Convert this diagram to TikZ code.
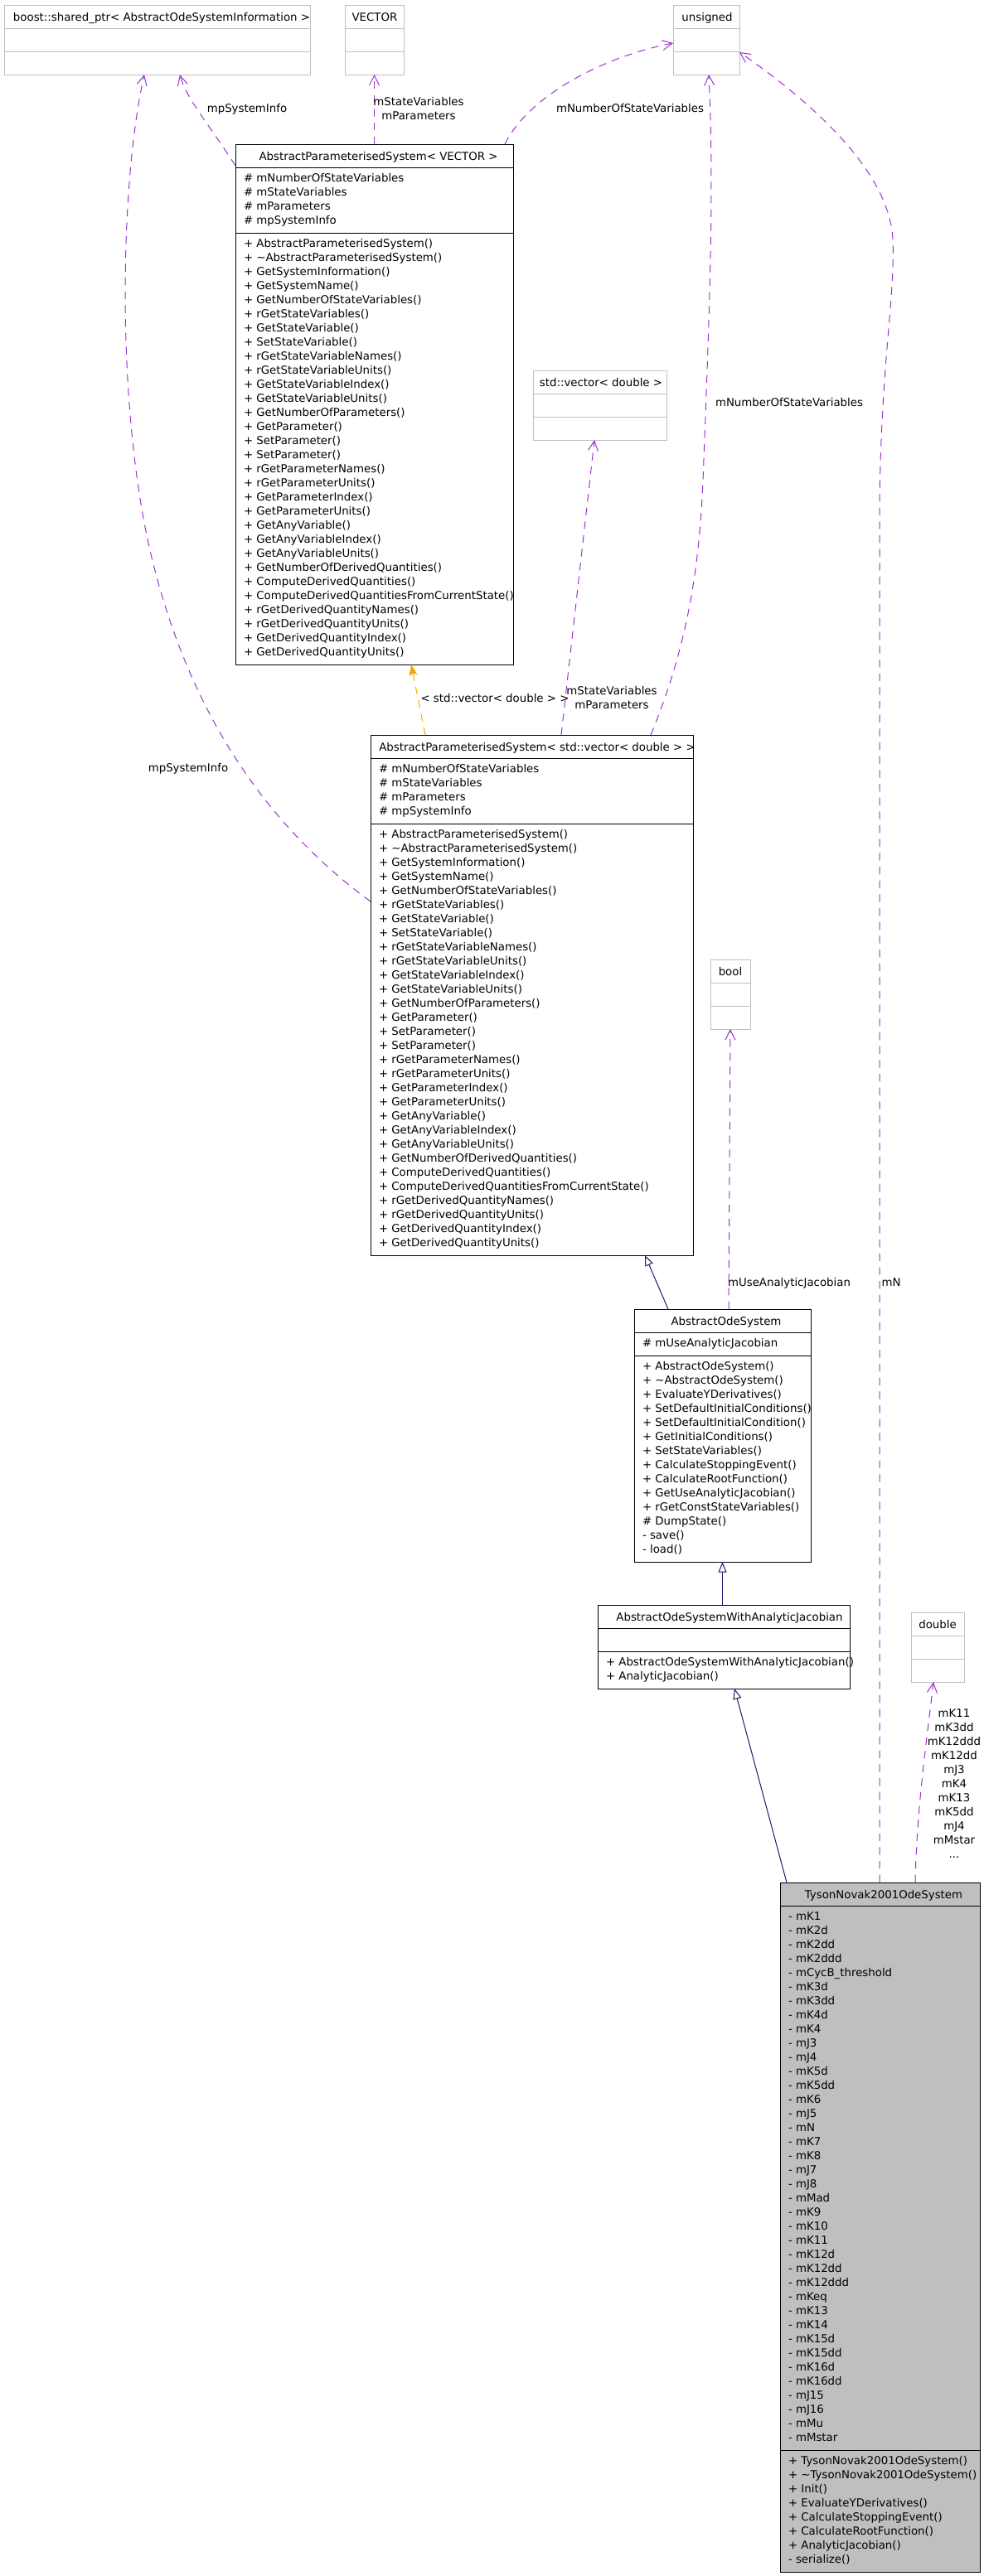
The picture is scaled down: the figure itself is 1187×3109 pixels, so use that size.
\documentclass[tikz,border=0pt]{standalone}
\usepackage{fontspec}
\setmainfont{DejaVu Sans}
\usetikzlibrary{arrows.meta,calc,fit}
\definecolor{usepurple}{HTML}{9A32CD}
\definecolor{inhnavy}{HTML}{191970}
\definecolor{tmplorange}{HTML}{FFA500}
\definecolor{boxgray}{HTML}{BFBFBF}
\definecolor{tysonfill}{HTML}{BFBFBF}
\begin{document}
\begin{tikzpicture}[x=0.75pt,y=-0.75pt,
  cls/.style={draw=black, line width=0.75pt, fill=white, inner sep=0pt, outer sep=0pt},
  ext/.style={draw=boxgray, line width=0.75pt, fill=white, inner sep=0pt, outer sep=0pt},
  cur/.style={draw=black, line width=0.75pt, fill=tysonfill, inner sep=0pt, outer sep=0pt},
  sepk/.style={draw=black, line width=0.75pt},
  sepg/.style={draw=boxgray, line width=0.75pt},
  tx/.style={inner sep=0pt, outer sep=0pt, font=\fontsize{10}{12.75}\selectfont},
  hdr/.style={tx, anchor=base},
  lst/.style={tx, align=left, anchor=north west},
  elbl/.style={tx, anchor=base},
  elbls/.style={tx, align=center, anchor=north},
  use/.style={draw=usepurple, line width=0.75pt, dash pattern=on 7pt off 5.5pt, -{Straight Barb[length=9pt,width=9pt]}},
  inh/.style={draw=inhnavy, line width=0.75pt, -{Triangle[open,length=9.5pt,width=7.5pt,fill=white]}},
  tpl/.style={draw=tmplorange, line width=0.75pt, dash pattern=on 7pt off 5.5pt, -{Stealth[length=10pt,width=7.5pt,inset=2pt]}}
]
\fill[white] (0,0) rectangle (1187,3109);
\useasboundingbox (0,0) rectangle (1187,3109);

% ---------- top row ----------
\node[ext, fit={(5,6) (374,90)}] (boost) {};
\draw[sepg] (5,34) -- (374,34) (5,62) -- (374,62);
\node[hdr] (boost-h) at (195,25) {boost::shared\_ptr< AbstractOdeSystemInformation >};

\node[ext, fit={(416,6) (487,90)}] (vecb) {};
\draw[sepg] (416,34) -- (487,34) (416,62) -- (487,62);
\node[hdr] (vecb-h) at (452,25) {VECTOR};

\node[ext, fit={(812,6) (892,90)}] (uns) {};
\draw[sepg] (812,34) -- (892,34) (812,62) -- (892,62);
\node[hdr] (uns-h) at (853,25) {unsigned};

% ---------- AbstractParameterisedSystem< VECTOR > ----------
\node[cls, fit={(284,174) (619,802)}] (apsv) {};
\draw[sepk] (284,202) -- (619,202) (284,281) -- (619,281);
\node[hdr] (apsv-h) at (456.5,193) {AbstractParameterisedSystem< VECTOR >};
\node[lst] (apsv-a) at (294,207.1) {\strut\# mNumberOfStateVariables\\\# mStateVariables\\\# mParameters\\\# mpSystemInfo};
\node[lst] (apsv-m) at (294,286.1) {\strut+ AbstractParameterisedSystem()\\+ \textasciitilde AbstractParameterisedSystem()\\+ GetSystemInformation()\\+ GetSystemName()\\+ GetNumberOfStateVariables()\\+ rGetStateVariables()\\+ GetStateVariable()\\+ SetStateVariable()\\+ rGetStateVariableNames()\\+ rGetStateVariableUnits()\\+ GetStateVariableIndex()\\+ GetStateVariableUnits()\\+ GetNumberOfParameters()\\+ GetParameter()\\+ SetParameter()\\+ SetParameter()\\+ rGetParameterNames()\\+ rGetParameterUnits()\\+ GetParameterIndex()\\+ GetParameterUnits()\\+ GetAnyVariable()\\+ GetAnyVariableIndex()\\+ GetAnyVariableUnits()\\+ GetNumberOfDerivedQuantities()\\+ ComputeDerivedQuantities()\\+ ComputeDerivedQuantitiesFromCurrentState()\\+ rGetDerivedQuantityNames()\\+ rGetDerivedQuantityUnits()\\+ GetDerivedQuantityIndex()\\+ GetDerivedQuantityUnits()};

% ---------- std::vector< double > ----------
\node[ext, fit={(643,447) (804,531)}] (stdv) {};
\draw[sepg] (643,475) -- (804,475) (643,503) -- (804,503);
\node[hdr] (stdv-h) at (725,466) {std::vector< double >};

% ---------- AbstractParameterisedSystem< std::vector< double > > ----------
\node[cls, fit={(447,887) (836,1515)}] (apsd) {};
\draw[sepk] (447,915) -- (836,915) (447,994) -- (836,994);
\node[hdr] (apsd-h) at (648,906) {AbstractParameterisedSystem< std::vector< double > >};
\node[lst] (apsd-a) at (457,920.1) {\strut\# mNumberOfStateVariables\\\# mStateVariables\\\# mParameters\\\# mpSystemInfo};
\node[lst] (apsd-m) at (457,999.1) {\strut+ AbstractParameterisedSystem()\\+ \textasciitilde AbstractParameterisedSystem()\\+ GetSystemInformation()\\+ GetSystemName()\\+ GetNumberOfStateVariables()\\+ rGetStateVariables()\\+ GetStateVariable()\\+ SetStateVariable()\\+ rGetStateVariableNames()\\+ rGetStateVariableUnits()\\+ GetStateVariableIndex()\\+ GetStateVariableUnits()\\+ GetNumberOfParameters()\\+ GetParameter()\\+ SetParameter()\\+ SetParameter()\\+ rGetParameterNames()\\+ rGetParameterUnits()\\+ GetParameterIndex()\\+ GetParameterUnits()\\+ GetAnyVariable()\\+ GetAnyVariableIndex()\\+ GetAnyVariableUnits()\\+ GetNumberOfDerivedQuantities()\\+ ComputeDerivedQuantities()\\+ ComputeDerivedQuantitiesFromCurrentState()\\+ rGetDerivedQuantityNames()\\+ rGetDerivedQuantityUnits()\\+ GetDerivedQuantityIndex()\\+ GetDerivedQuantityUnits()};

% ---------- bool ----------
\node[ext, fit={(857,1158) (905,1242)}] (boolb) {};
\draw[sepg] (857,1186) -- (905,1186) (857,1214) -- (905,1214);
\node[hdr] (boolb-h) at (881,1177) {bool};

% ---------- AbstractOdeSystem ----------
\node[cls, fit={(765,1580) (978,1885)}] (aos) {};
\draw[sepk] (765,1608) -- (978,1608) (765,1636) -- (978,1636);
\node[hdr] (aos-h) at (876,1599) {AbstractOdeSystem};
\node[lst] (aos-a) at (775,1613.1) {\strut\# mUseAnalyticJacobian};
\node[lst] (aos-m) at (775,1641.1) {\strut+ AbstractOdeSystem()\\+ \textasciitilde AbstractOdeSystem()\\+ EvaluateYDerivatives()\\+ SetDefaultInitialConditions()\\+ SetDefaultInitialCondition()\\+ GetInitialConditions()\\+ SetStateVariables()\\+ CalculateStoppingEvent()\\+ CalculateRootFunction()\\+ GetUseAnalyticJacobian()\\+ rGetConstStateVariables()\\\# DumpState()\\- save()\\- load()};

% ---------- AbstractOdeSystemWithAnalyticJacobian ----------
\node[cls, fit={(721,1937) (1025,2038)}] (aoswaj) {};
\draw[sepk] (721,1965) -- (1025,1965) (721,1993) -- (1025,1993);
\node[hdr] (aoswaj-h) at (880,1956) {AbstractOdeSystemWithAnalyticJacobian};
\node[lst] (aoswaj-m) at (731,1998.1) {\strut+ AbstractOdeSystemWithAnalyticJacobian()\\+ AnalyticJacobian()};

% ---------- double ----------
\node[ext, fit={(1099,1946) (1163,2030)}] (dbl) {};
\draw[sepg] (1099,1974) -- (1163,1974) (1099,2002) -- (1163,2002);
\node[hdr] (dbl-h) at (1131,1965) {double};

% ---------- TysonNovak2001OdeSystem ----------
\node[cur, fit={(941,2272) (1182,3104)}] (tyson) {};
\draw[sepk] (941,2300) -- (1182,2300) (941,2957) -- (1182,2957);
\node[hdr] (tyson-h) at (1066,2291) {TysonNovak2001OdeSystem};
\node[lst] (tyson-a) at (951,2305.1) {\strut- mK1\\- mK2d\\- mK2dd\\- mK2ddd\\- mCycB\_threshold\\- mK3d\\- mK3dd\\- mK4d\\- mK4\\- mJ3\\- mJ4\\- mK5d\\- mK5dd\\- mK6\\- mJ5\\- mN\\- mK7\\- mK8\\- mJ7\\- mJ8\\- mMad\\- mK9\\- mK10\\- mK11\\- mK12d\\- mK12dd\\- mK12ddd\\- mKeq\\- mK13\\- mK14\\- mK15d\\- mK15dd\\- mK16d\\- mK16dd\\- mJ15\\- mJ16\\- mMu\\- mMstar};
\node[lst] (tyson-m) at (951,2962.1) {\strut+ TysonNovak2001OdeSystem()\\+ \textasciitilde TysonNovak2001OdeSystem()\\+ Init()\\+ EvaluateYDerivatives()\\+ CalculateStoppingEvent()\\+ CalculateRootFunction()\\+ AnalyticJacobian()\\- serialize()};

% ---------- connectors ----------
\draw[use] ($(apsv.north west)+(0,26)$) .. controls (252,150) and (224,118) .. ($(boost.south west)+(212,0)$);
\draw[use] (apsv.north -| vecb.south) -- (vecb.south);
\draw[use] ($(apsv.north west)+(325,0)$) .. controls (635,120) and (720,70) .. ($(uns.north west)+(0,46)$);
\draw[tpl] ($(apsd.north west)+(66,0)$) -- ($(apsv.south west)+(212,0)$);
\draw[use] ($(apsd.north west)+(230,0)$) -- ($(stdv.south west)+(74,0)$);
\draw[use] ($(apsd.north west)+(338,0)$) .. controls (825,790) and (843,700) .. (848,580) .. controls (855,400) and (862,230) .. ($(uns.south west)+(43,0)$);
\draw[use] ($(apsd.north west)+(0,201)$) .. controls (340,1010) and (230,880) .. (180,660) .. controls (140,480) and (145,220) .. ($(boost.south west)+(169,0)$);
\draw[inh] ($(aos.north west)+(41,0)$) -- ($(apsd.south west)+(331,0)$);
\draw[use] ($(aos.north west)+(114,0)$) -- (boolb.south);
\draw[inh] (aoswaj.north -| aos.south) -- (aos.south);
\draw[inh] ($(tyson.north west)+(8,0)$) -- ($(aoswaj.south west)+(165,0)$);
\draw[use] ($(tyson.north west)+(163,0)$) .. controls (1106,2180) and (1118,2100) .. ($(dbl.south west)+(27,0)$);
\draw[use] ($(tyson.north west)+(120,0)$) -- (1061,630) .. controls (1061,450) and (1080,360) .. (1077,290) .. controls (1074,200) and (960,110) .. ($(uns.north east)+(0,57)$);

% ---------- connector labels ----------
\node[elbl] (lbl1) at (298,135.5) {mpSystemInfo};
\node[elbls] (lbl2) at (505,115.6) {\strut mStateVariables\\mParameters};
\node[elbl] (lbl3) at (760,135.5) {mNumberOfStateVariables};
\node[elbl] (lbl4) at (227,931.5) {mpSystemInfo};
\node[elbl] (lbl5) at (597,847.5) {< std::vector< double > >};
\node[elbls] (lbl6) at (738,826.9) {\strut mStateVariables\\mParameters};
\node[elbl] (lbl7) at (952,490.5) {mNumberOfStateVariables};
\node[elbl] (lbl8) at (952,1552.5) {mUseAnalyticJacobian};
\node[elbl] (lbl9) at (1075,1552.5) {mN};
\node[elbls] (lbl10) at (1151,2060.6) {\strut mK11\\mK3dd\\mK12ddd\\mK12dd\\mJ3\\mK4\\mK13\\mK5dd\\mJ4\\mMstar\\...};
\end{tikzpicture}
\end{document}
